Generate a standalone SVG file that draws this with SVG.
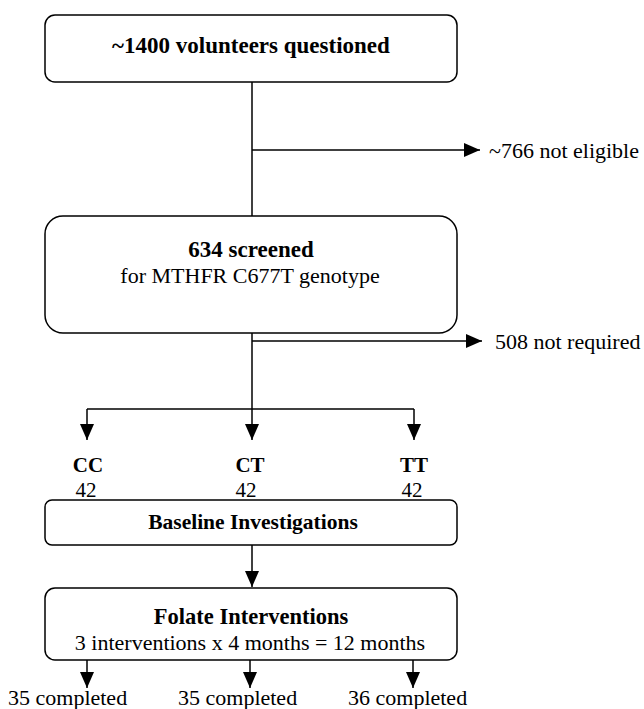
<svg xmlns="http://www.w3.org/2000/svg" width="644" height="709" viewBox="0 0 644 709">
<defs>
<marker id="ah" markerUnits="userSpaceOnUse" markerWidth="16" markerHeight="14" refX="16" refY="7" orient="auto">
<path d="M0,0 L16,7 L0,14 Z" fill="#000"/>
</marker>
<style>
.box{fill:#fff;stroke:#000;stroke-width:1.5}
.ln{fill:none;stroke:#000;stroke-width:1.5}
.ar{fill:none;stroke:#000;stroke-width:1.5;marker-end:url(#ah)}
text{font-family:"Liberation Serif","Times New Roman",serif;font-size:22px;fill:#000}
.b{font-weight:bold}
.m{text-anchor:middle}
</style>
</defs>
<g id="connectors">
<path class="ln" d="M252,82 V216"/>
<path class="ar" d="M252,150 H480"/>
<path class="ar" d="M252,333 V440"/>
<path class="ar" d="M252,341 H482"/>
<path class="ln" d="M87,409 H414"/>
<path class="ar" d="M87,409 V440"/>
<path class="ar" d="M414,409 V440"/>
<path class="ar" d="M252,545 V587"/>
<path class="ar" d="M87,660 V688"/>
<path class="ar" d="M250,660 V688"/>
<path class="ar" d="M413,660 V688"/>
</g>
<g id="n1">
<rect class="box" x="45" y="15" width="412" height="67" rx="10"/>
<text class="b m" x="251" y="53" style="font-size:23px">~1400 volunteers questioned</text>
</g>
<g id="n2">
<text x="489" y="158">~766 not eligible</text>
</g>
<g id="n3">
<rect class="box" x="45" y="216" width="412" height="117" rx="18"/>
<text class="b m" x="251" y="257" style="font-size:23px">634 screened</text>
<text class="m" x="250" y="283">for MTHFR C677T genotype</text>
</g>
<g id="n4">
<text x="495" y="349">508 not required</text>
</g>
<g id="n5">
<text class="b m" x="88" y="472" style="font-size:21px">CC</text>
<text class="m" x="86" y="497" style="font-size:21px">42</text>
</g>
<g id="n6">
<text class="b m" x="250" y="472" style="font-size:21px">CT</text>
<text class="m" x="246" y="497" style="font-size:21px">42</text>
</g>
<g id="n7">
<text class="b m" x="414" y="472" style="font-size:21px">TT</text>
<text class="m" x="412" y="497" style="font-size:21px">42</text>
</g>
<g id="n8">
<rect class="box" x="45" y="500" width="412" height="45" rx="7"/>
<text class="b m" x="253" y="529" style="font-size:21.5px">Baseline Investigations</text>
</g>
<g id="n9">
<rect class="box" x="45" y="588" width="412" height="72" rx="10"/>
<text class="b m" x="251" y="624" style="font-size:22.5px">Folate Interventions</text>
<text class="m" x="250" y="650">3 interventions x 4 months = 12 months</text>
</g>
<g id="n10">
<text x="8" y="705">35 completed</text>
</g>
<g id="n11">
<text x="178" y="705">35 completed</text>
</g>
<g id="n12">
<text x="348" y="705">36 completed</text>
</g>
</svg>
